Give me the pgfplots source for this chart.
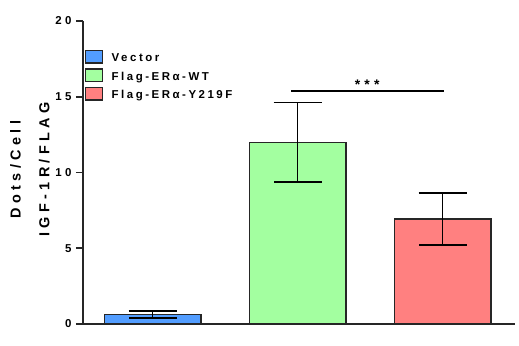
\documentclass[border=0pt]{standalone}
\usepackage{fontspec}
\setmainfont{Liberation Sans}[LetterSpace=30]
\usepackage{pgfplots}
\pgfplotsset{compat=1.18}
\definecolor{cblue}{HTML}{529DFF}
\definecolor{cgreen}{HTML}{A3FFA0}
\definecolor{cred}{HTML}{FF8080}
\pgfplotsset{mylegend/.style={legend image code/.code={\draw[##1, line width=1.3bp] (0bp,-4.5bp) rectangle (17bp,8bp);}}}
\begin{document}
\begin{tikzpicture}
\begin{axis}[
  scale only axis, width=432bp, height=303bp,
  at={(0,0)}, anchor=south west,
  xmin=-0.48, xmax=2.5, ymin=0, ymax=20,
  axis x line*=bottom, axis y line*=left,
  axis line style={line width=1.6bp, draw=black!85},
  xtick=\empty, ytick={0,5,10,15,20},
  tick align=outside, major tick length=7bp,
  tick style={line width=1.6bp, black!85},
  /pgf/number format/assume math mode=true,
  yticklabel style={font=\bfseries\fontsize{11.5}{12}\selectfont, xshift=-1bp},
  ylabel={Dots/Cell\\IGF-1R/FLAG},
  ylabel style={font=\bfseries\fontsize{14.5}{29}\selectfont, align=center, at={(axis description cs:-0.123,0.51)}, anchor=center},
  ybar, bar width=0.667, bar shift=0pt,
  legend style={at={(axis description cs:0.004,0.905)}, anchor=north west, draw=none, fill=none,
    font=\bfseries\fontsize{11.5}{12}\selectfont\addfontfeatures{LetterSpace=22}, row sep=3bp, inner sep=0pt,
    nodes={inner xsep=8.5bp}},
  legend cell align=left,
]
\addplot+[ybar, fill=cblue, draw=black!85, line width=1.3bp, mylegend,
  error bars/.cd, y dir=both, y explicit, error mark=|,
  error bar style={line width=1.6bp, black},
  error mark options={black, line width=1.6bp, mark size=24bp}]
  coordinates {(0,0.62) +- (0,0.22)};
\addlegendentry{Vector}
\addplot+[ybar, fill=cgreen, draw=black!85, line width=1.3bp, mylegend,
  error bars/.cd, y dir=both, y explicit, error mark=|,
  error bar style={line width=1.6bp, black},
  error mark options={black, line width=1.6bp, mark size=24bp}]
  coordinates {(1,12.0) +- (0,2.63)};
\addlegendentry{Flag-ERα-WT}
\addplot+[ybar, fill=cred, draw=black!85, line width=1.3bp, mylegend,
  error bars/.cd, y dir=both, y explicit, error mark=|,
  error bar style={line width=1.6bp, black},
  error mark options={black, line width=1.6bp, mark size=24bp}]
  coordinates {(2,6.93) +- (0,1.72)};
\addlegendentry{Flag-ERα-Y219F}
\draw[line width=1.8bp, black] (axis cs:0.955,15.4) -- (axis cs:2.007,15.4);
\node[anchor=south, font=\bfseries\fontsize{14}{14}\selectfont, inner sep=0.5bp] at (axis cs:1.48,15.4) {***};
\end{axis}
\pgfresetboundingbox
\path[use as bounding box] (-83bp,-22bp) rectangle (436bp,324bp);
\end{tikzpicture}
\end{document}
